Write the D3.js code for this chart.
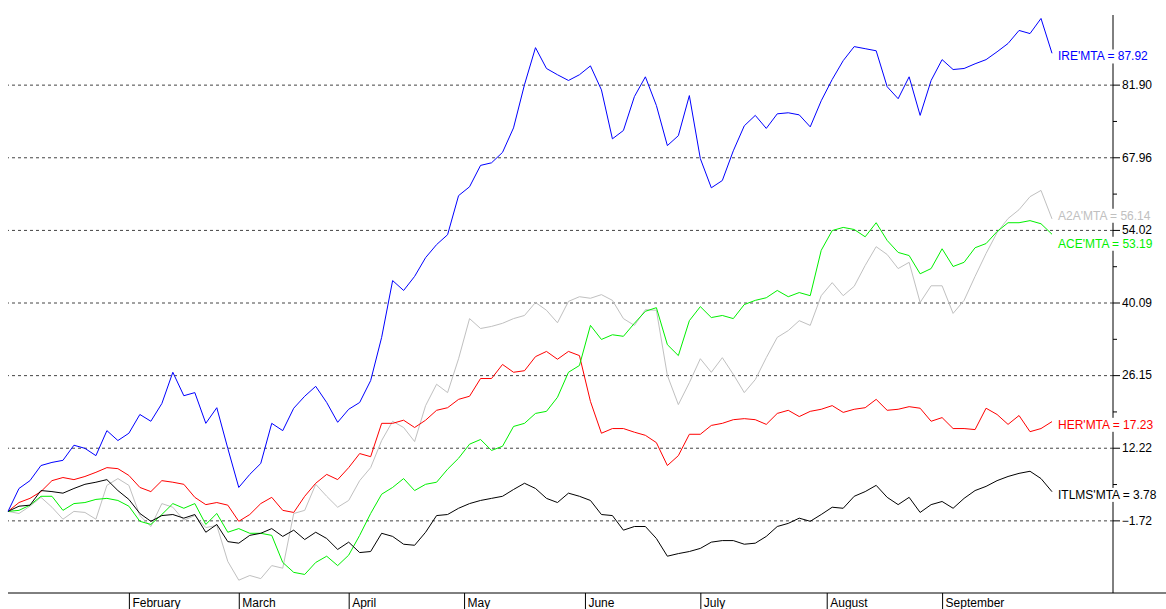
<!DOCTYPE html>
<html>
<head>
<meta charset="utf-8">
<script src="https://cdn.jsdelivr.net/npm/d3@7"></script>
<style>
  html, body { margin: 0; padding: 0; background: #fff; overflow: hidden; }
  svg { display: block; font-family: "Liberation Sans", Arial, sans-serif; }
</style>
</head>
<body>
<div id="chart"></div>
<script>
// month labels and the trading day each month starts on
const months = ["February", "March", "April", "May", "June", "July", "August", "September"];
const monthStartDay = [22, 42, 62, 83, 105, 126, 149, 170];

// one value every 2 trading days, % change since the first day
const dayStep = 2;

const ire = [0, 4.4, 5.9, 8.8, 9.4, 9.8, 12.7, 12.1, 10.7, 15.5, 13.6, 15.0, 18.6, 17.3, 20.7, 26.7,
  22.2, 22.8, 16.9, 19.9, 12.1, 4.6, 7.1, 9.2, 16.9, 15.5, 19.8, 22.1, 24.0, 20.9, 17.1, 19.6,
  20.9, 25.1, 33.4, 44.3, 42.4, 45.1, 48.7, 51.2, 53.1, 60.6, 62.3, 66.4, 66.9, 68.9, 73.6, 81.9,
  89.0, 85.0, 83.8, 82.7, 83.8, 85.5, 80.9, 71.5, 73.1, 79.6, 83.4, 77.9, 70.2, 72.1, 79.8, 67.7,
  62.1, 63.5, 69.2, 74.0, 76.0, 73.5, 76.3, 76.5, 76.1, 73.8, 78.8, 82.9, 86.5, 89.2, 88.8, 88.4,
  81.5, 79.2, 83.4, 76.0, 82.7, 86.7, 84.8, 85.0, 85.9, 86.7, 88.2, 89.8, 92.3, 91.7, 94.6, 87.92];

const a2a = [0, -0.4, 1.0, 2.7, 0.8, -1.5, 0.0, -0.2, -1.5, 5.0, 6.3, 5.0, -0.8, -2.9, 1.5, 0.8,
  -1.7, -0.8, -3.1, -2.7, -9.6, -13.2, -12.3, -12.9, -10.4, -10.9, -0.4, 0.2, 5.2, 2.9, 0.8, 2.1,
  5.9, 8.4, 13.6, 17.3, 16.1, 13.4, 20.3, 24.4, 22.8, 29.3, 37.0, 35.1, 35.5, 36.1, 37.0, 37.6,
  40.1, 38.6, 36.2, 40.3, 41.2, 40.9, 41.6, 40.5, 37.0, 35.7, 38.7, 38.6, 26.1, 20.5, 24.7, 29.3,
  26.7, 29.5, 26.3, 22.8, 25.3, 29.5, 33.4, 34.7, 36.6, 35.7, 41.4, 43.9, 41.4, 43.2, 47.2, 50.8,
  49.3, 46.6, 47.8, 40.1, 43.3, 43.3, 38.0, 40.5, 45.1, 49.5, 53.5, 56.2, 57.9, 60.4, 61.6, 56.14];

const ace = [0, 0.2, 1.2, 2.9, 2.9, 0.2, 1.5, 1.7, 2.3, 2.5, 2.1, 1.0, -1.9, -2.5, -0.6, 1.5,
  0.6, 1.5, -2.5, -0.4, -4.0, -3.3, -4.2, -4.2, -4.6, -9.8, -11.7, -12.1, -9.8, -8.6, -10.4, -8.4,
  -4.6, -0.4, 3.3, 4.6, 6.3, 4.0, 5.2, 5.6, 8.1, 10.2, 12.9, 13.8, 11.7, 12.5, 16.3, 16.9,
  18.8, 19.2, 21.9, 26.7, 28.0, 35.7, 33.0, 33.9, 33.6, 36.1, 38.4, 39.1, 32.0, 29.9, 36.6, 39.3,
  37.2, 37.6, 37.0, 39.7, 40.5, 41.0, 42.4, 41.2, 42.0, 41.4, 50.1, 53.9, 54.5, 54.1, 52.7, 55.4,
  52.0, 49.7, 49.1, 45.6, 46.6, 50.4, 47.0, 47.8, 50.6, 51.4, 53.7, 55.4, 55.4, 55.8, 55.2, 53.19];

const her = [0, 1.7, 2.5, 3.8, 5.9, 6.5, 6.1, 6.7, 7.5, 8.4, 8.2, 6.9, 4.6, 3.8, 5.9, 5.6,
  5.2, 2.7, 1.3, 1.7, 1.2, -1.9, -0.6, 1.5, 2.7, 0.2, -0.2, 2.9, 5.4, 7.1, 6.1, 8.4,
  11.1, 10.5, 16.9, 16.9, 17.5, 16.1, 17.5, 19.4, 19.9, 21.5, 22.1, 25.5, 25.5, 28.2, 26.7, 27.0,
  29.7, 30.7, 29.2, 30.7, 29.9, 21.1, 15.0, 15.9, 15.9, 15.2, 14.6, 13.2, 8.8, 10.7, 14.8, 14.8,
  16.5, 16.9, 17.6, 17.8, 17.6, 16.7, 18.8, 19.4, 18.2, 19.2, 19.6, 20.3, 19.0, 19.6, 19.9, 21.5,
  19.4, 19.6, 20.1, 19.8, 17.3, 18.0, 15.9, 15.9, 15.7, 19.8, 18.6, 16.7, 18.4, 15.3, 15.9, 17.23];

const itlms = [0, 1.0, 1.2, 4.0, 3.8, 3.5, 4.4, 5.2, 5.6, 6.1, 4.0, 2.3, -0.4, -1.9, -0.8, -0.6,
  -1.3, -0.6, -4.0, -2.5, -5.8, -6.1, -4.6, -4.2, -3.3, -4.8, -3.6, -5.4, -4.0, -5.2, -7.3, -5.9,
  -7.9, -7.7, -4.2, -4.8, -6.3, -6.5, -4.0, -0.8, -0.6, 0.6, 1.5, 2.1, 2.5, 2.9, 4.2, 5.4,
  4.4, 2.5, 1.7, 3.5, 2.9, 2.1, -0.6, -0.8, -3.6, -2.9, -2.9, -5.2, -8.6, -8.1, -7.7, -7.1,
  -5.9, -5.6, -5.6, -6.3, -6.1, -4.8, -2.9, -2.3, -1.3, -1.9, -0.6, 0.8, 0.6, 2.9, 3.8, 5.0,
  2.7, 1.3, 2.7, -0.2, 1.3, 1.9, 0.6, 2.5, 4.0, 4.8, 5.9, 6.7, 7.3, 7.7, 6.3, 3.78];

const seriesNames = ["A2A'MTA", "HER'MTA", "ACE'MTA", "ITLMS'MTA", "IRE'MTA"];
const seriesValues = [a2a, her, ace, itlms, ire];
const seriesColors = ["#c0c0c0", "#ff0000", "#00f000", "#000000", "#0000ff"];

// labelled price-axis levels
const tickValues = [-1.72, 12.22, 26.15, 40.09, 54.02, 67.96, 81.90];
const yDomain = [-15.66, 95.84];

const W = 1166, H = 609;
const plotLeft = 8, plotRight = 1052, axisX = 1113;
const plotBottom = 593, plotTop = 12;

const svg = d3.select("#chart").append("svg")
  .attr("width", W)
  .attr("height", H);

const x = d3.scaleLinear()
  .domain([0, (ire.length - 1) * dayStep])
  .range([plotLeft, plotRight]);

const y = d3.scaleLinear()
  .domain(yDomain)
  .range([plotBottom, plotTop]);

// dashed gridlines
const grid = svg.append("g")
  .attr("transform", `translate(${axisX},0)`)
  .call(d3.axisLeft(y).tickValues(tickValues).tickSize(axisX - plotLeft).tickFormat(""));
grid.select(".domain").remove();
grid.selectAll("line")
  .attr("stroke", "#444")
  .attr("stroke-dasharray", "3,3");

// minor ticks between labelled levels
const minor = d3.pairs(tickValues).map(([a, b]) => (a + b) / 2);
const minorAxis = svg.append("g")
  .attr("transform", `translate(${axisX},0)`)
  .call(d3.axisRight(y).tickValues(minor).tickSize(4).tickFormat(""));
minorAxis.select(".domain").remove();

// right price axis
const yAxis = svg.append("g")
  .attr("transform", `translate(${axisX},0)`)
  .call(d3.axisRight(y).tickValues(tickValues).tickSize(7).tickFormat(d3.format(".2f")));
yAxis.select(".domain").remove();
yAxis.selectAll("line").attr("stroke", "#000");
yAxis.selectAll("text")
  .attr("text-anchor", "end")
  .attr("x", 39)
  .style("font-size", "12px")
  .attr("fill", "#000");

svg.append("line")
  .attr("x1", axisX).attr("x2", axisX)
  .attr("y1", 15).attr("y2", plotBottom)
  .attr("stroke", "#000");

// bottom month axis
svg.append("line")
  .attr("x1", plotLeft).attr("x2", W)
  .attr("y1", plotBottom).attr("y2", plotBottom)
  .attr("stroke", "#000");

const xAxis = svg.append("g")
  .attr("transform", `translate(0,${plotBottom})`)
  .call(d3.axisBottom(x).tickValues(monthStartDay).tickSize(16).tickFormat((d, i) => months[i]));
xAxis.select(".domain").remove();
xAxis.selectAll("line").attr("stroke", "#000");
xAxis.selectAll("text")
  .attr("text-anchor", "start")
  .attr("x", 3)
  .attr("y", 14)
  .attr("dy", 0)
  .style("font-size", "12px")
  .attr("fill", "#000");

// series lines
const line = d3.line()
  .x((d, i) => x(i * dayStep))
  .y(d => y(d));

seriesValues.forEach((vals, k) => {
  svg.append("path")
    .datum(vals)
    .attr("fill", "none")
    .attr("stroke", seriesColors[k])
    .attr("stroke-width", 1)
    .attr("stroke-linejoin", "round")
    .attr("d", line);
});

// end labels, pushed apart when they collide
const labels = seriesValues.map((vals, k) => ({
  text: `${seriesNames[k]} = ${vals[vals.length - 1].toFixed(2)}`,
  color: seriesColors[k],
  y: y(vals[vals.length - 1]) + 3
})).sort((a, b) => a.y - b.y);

const gap = 28;
for (let i = 1; i < labels.length; i++) {
  const a = labels[i - 1], b = labels[i];
  if (b.y - a.y < gap) {
    const mid = (a.y + b.y) / 2;
    a.y = mid - gap / 2;
    b.y = mid + gap / 2;
  }
}

const lab = svg.append("g");
labels.forEach(l => {
  const g = lab.append("g");
  const rect = g.append("rect").attr("fill", "#fff");
  const t = g.append("text")
    .attr("x", 1058)
    .attr("y", l.y)
    .attr("dy", "0.35em")
    .style("font-size", "12px")
    .attr("fill", l.color)
    .text(l.text);
  const bb = t.node().getBBox();
  rect.attr("x", bb.x - 2).attr("y", bb.y)
    .attr("width", bb.width + 4).attr("height", bb.height);
});
</script>
</body>
</html>
